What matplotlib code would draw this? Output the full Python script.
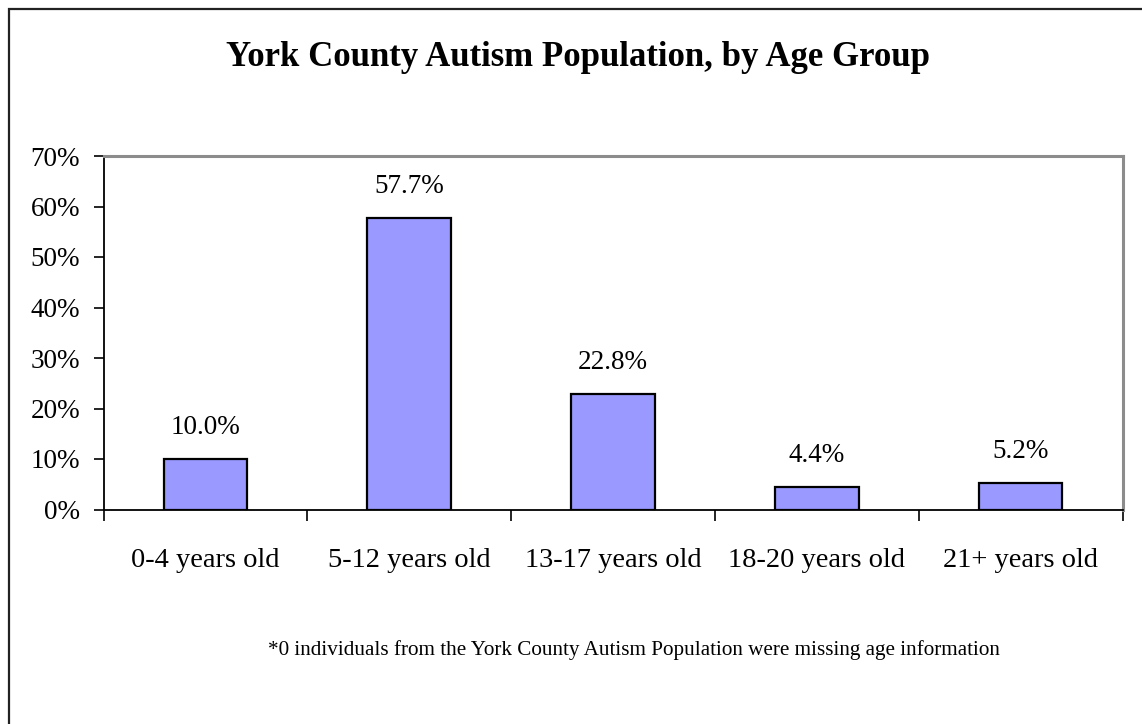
import matplotlib
matplotlib.use("Agg")
import matplotlib.pyplot as plt
from matplotlib.patches import Rectangle
from matplotlib.ticker import FuncFormatter

categories = ["0-4 years old", "5-12 years old", "13-17 years old", "18-20 years old", "21+ years old"]
values = [10.0, 57.7, 22.8, 4.4, 5.2]
yticks = [0, 10, 20, 30, 40, 50, 60, 70]
title = "York County Autism Population, by Age Group"
footnote = "*0 individuals from the York County Autism Population were missing age information"

plt.rcParams['font.family'] = ['Liberation Serif', 'DejaVu Serif']

W, H = 1142, 724
fig = plt.figure(figsize=(W / 100, H / 100), dpi=100)

# outer chart border (extends past right/bottom edges)
fig.patches.append(Rectangle((8.5 / W, -0.05), 1.2, (H - 8.5) / H + 0.05,
                             transform=fig.transFigure, fill=False,
                             edgecolor="#222222", linewidth=1.6, zorder=0))

left, right, top, bottom = 103.5, 1122.5, 156, 509.5
ax = fig.add_axes([left / W, 1 - bottom / H, (right - left) / W, (bottom - top) / H])

x = list(range(len(categories)))
ax.bar(x, values, width=0.41, color="#9999FF", edgecolor="black", linewidth=1.6, zorder=3)
for xi, v in zip(x, values):
    ax.annotate(f"{v:.1f}%", (xi, v), xytext=(0, 14), textcoords="offset points",
                ha="center", va="bottom", fontsize=19.5)

ax.set_xlim(-0.5, len(categories) - 0.5)
ax.set_ylim(0, 70)
ax.set_yticks(yticks)
ax.yaxis.set_major_formatter(FuncFormatter(lambda v, p: f"{v:.0f}%"))
ax.set_xticks(x)
ax.set_xticklabels(categories)
ax.set_xticks([i - 0.5 for i in range(len(categories) + 1)], minor=True)

ax.tick_params(axis="y", direction="out", length=7, width=1.2, labelsize=19.5, pad=10)
ax.tick_params(axis="x", which="major", length=0, labelsize=20.5, pad=28)
ax.tick_params(axis="x", which="minor", direction="out", length=8, width=1.2)

for s in ["left", "bottom"]:
    ax.spines[s].set_color("black")
    ax.spines[s].set_linewidth(1.3)
for s in ["top", "right"]:
    ax.spines[s].set_color("#8c8c8c")
    ax.spines[s].set_linewidth(2.2)

fig.text(578 / W, 1 - 58 / H, title, ha="center", va="center",
         fontsize=25, fontweight="bold")
fig.text(634 / W, 1 - 650 / H, footnote, ha="center", va="center", fontsize=15.2)

fig.savefig("out.png", dpi=100)
